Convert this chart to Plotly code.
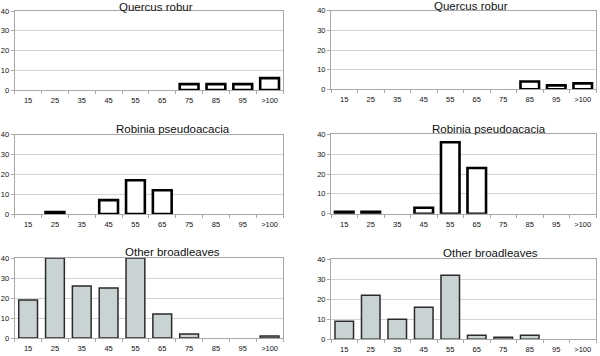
import plotly.graph_objects as go

categories = ["15", "25", "35", "45", "55", "65", "75", "85", "95", ">100"]

quercus_left = [0, 0, 0, 0, 0, 0, 3, 3, 3, 6]
quercus_right = [0, 0, 0, 0, 0, 0, 0, 4, 2, 3]
robinia_left = [0, 1, 0, 7, 17, 12, 0, 0, 0, 0]
robinia_right = [1, 1, 0, 3, 36, 23, 0, 0, 0, 0]
other_left = [19, 40, 26, 25, 40, 12, 2, 0, 0, 1]
other_right = [9, 22, 10, 16, 32, 2, 1, 2, 0, 0]

titles = ["Quercus robur", "Quercus robur", "Robinia pseudoacacia", "Robinia pseudoacacia",
          "Other broadleaves", "Other broadleaves"]
y_ticks = [0, 10, 20, 30, 40]

W, H = 600, 356

# panel pixel boxes: (x0, x1, ytop, ybottom)
boxes = [
    (14.7, 283, 11, 90),
    (331, 596, 10.8, 89.3),
    (14.7, 283, 134.7, 214),
    (331, 596, 134.3, 213.7),
    (14.7, 283, 258, 338),
    (331, 596, 259.3, 339.3),
]
# title centers in pixels
title_pos = [(156, 7), (471, 5.5), (172.5, 128.5), (489, 129), (172, 252), (490, 253)]

series = [quercus_left, quercus_right, robinia_left, robinia_right, other_left, other_right]

fig = go.Figure()
layout = dict(
    width=W, height=H, margin=dict(l=0, r=0, t=0, b=0, autoexpand=False),
    paper_bgcolor="white", plot_bgcolor="white", showlegend=False,
    bargap=0.3,
    font=dict(family="Liberation Sans, Arial, sans-serif", size=7.5, color="#111"),
)
annotations = []
for i, (vals, box, title, tp) in enumerate(zip(series, boxes, titles, title_pos)):
    n = "" if i == 0 else str(i + 1)
    bottom_row = i >= 4
    fig.add_trace(go.Bar(
        x=categories, y=[v if v else None for v in vals], xaxis="x" + n, yaxis="y" + n,
        marker=dict(
            color="#c9d3d3" if bottom_row else "white",
            line=dict(color="#2a2a2a" if bottom_row else "#000000", width=1.5 if bottom_row else 2.6),
        ),
        hoverinfo="x+y",
    ))
    x0, x1, yt, yb = box
    layout["xaxis" + n] = dict(
        domain=[x0 / W, x1 / W], anchor="y" + n, type="category",
        categoryorder="array", categoryarray=categories, range=[-0.5, 9.5],
        showline=True, linecolor="#a8a8a8", linewidth=1, mirror=True,
        ticks="outside", tickson="boundaries", ticklen=3, tickcolor="#a8a8a8",
        ticklabelstandoff=3, automargin=False,
        showgrid=False, tickfont=dict(size=7.5, color="#111"), fixedrange=True,
    )
    layout["yaxis" + n] = dict(
        domain=[1 - yb / H, 1 - yt / H], anchor="x" + n, range=[0, 40],
        tickvals=y_ticks, showline=True, linecolor="#a8a8a8", linewidth=1, mirror=True,
        ticks="outside", ticklen=3, tickcolor="#a8a8a8", automargin=False,
        showgrid=True, gridcolor="#d4d4d4", gridwidth=1, zeroline=False,
        tickfont=dict(size=7.5, color="#111"), fixedrange=True,
    )
    annotations.append(dict(
        text=title, x=tp[0] / W, y=1 - tp[1] / H, xref="paper", yref="paper",
        xanchor="center", yanchor="middle", showarrow=False,
        font=dict(size=11.5, color="#111", family="Liberation Sans, Arial, sans-serif"),
    ))
layout["annotations"] = annotations
fig.update_layout(**layout)
fig.write_html("out.html", config={"displayModeBar": False},
               post_script="document.body.style.margin='0';document.body.style.overflow='hidden';")
